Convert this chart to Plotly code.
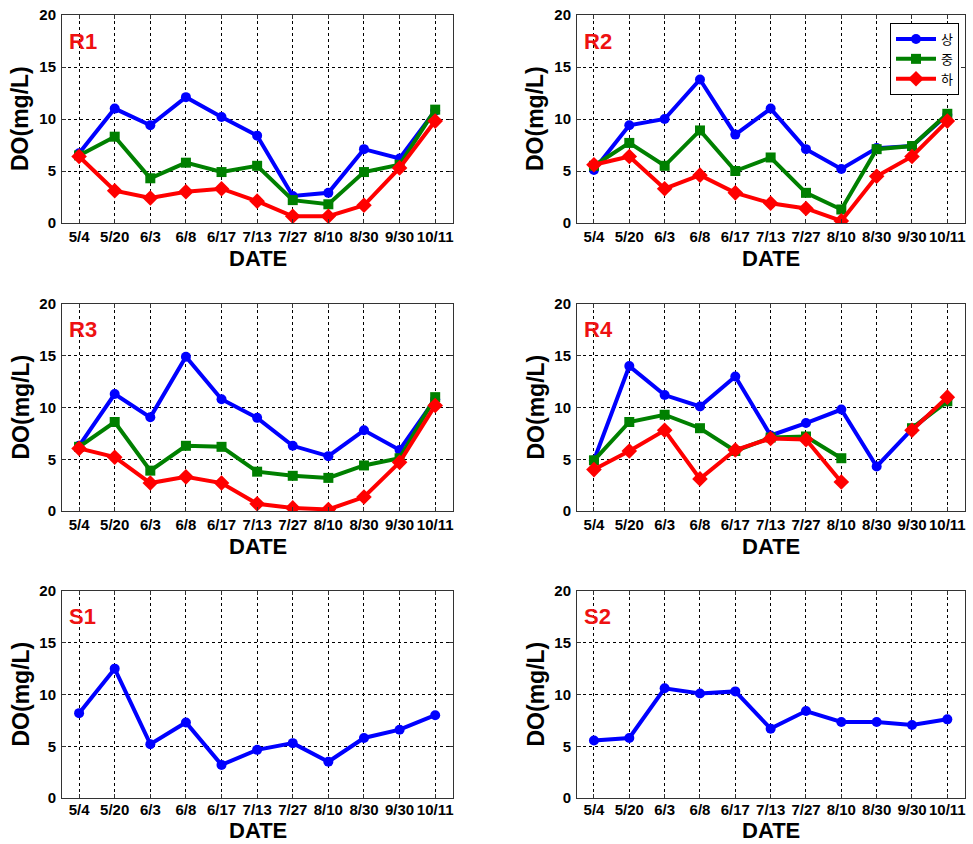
import plotly.graph_objects as go

dates = ["5/4", "5/20", "6/3", "6/8", "6/17", "7/13", "7/27", "8/10", "8/30", "9/30", "10/11"]
series_names = ["상", "중", "하"]

r1_up = [6.7, 11.0, 9.4, 12.1, 10.2, 8.4, 2.6, 2.9, 7.1, 6.2, 10.8]
r1_mid = [6.5, 8.3, 4.3, 5.8, 4.9, 5.5, 2.2, 1.8, 4.9, 5.6, 10.9]
r1_low = [6.4, 3.1, 2.4, 3.0, 3.3, 2.1, 0.65, 0.65, 1.7, 5.3, 9.8]

r2_up = [5.1, 9.4, 10.0, 13.8, 8.5, 11.0, 7.1, 5.2, 7.2, 7.4, 10.4]
r2_mid = [5.5, 7.7, 5.5, 8.9, 5.0, 6.3, 2.9, 1.3, 7.1, 7.4, 10.5]
r2_low = [5.6, 6.4, 3.3, 4.6, 2.9, 1.9, 1.4, 0.2, 4.5, 6.4, 9.8]

r3_up = [6.3, 11.3, 9.05, 14.9, 10.8, 9.0, 6.3, 5.3, 7.8, 5.9, 10.8]
r3_mid = [6.2, 8.6, 3.9, 6.3, 6.2, 3.8, 3.4, 3.2, 4.4, 5.1, 11.0]
r3_low = [6.05, 5.2, 2.7, 3.3, 2.7, 0.7, 0.3, 0.15, 1.35, 4.7, 10.2]

r4_up = [4.9, 14.0, 11.2, 10.1, 13.0, 7.3, 8.5, 9.8, 4.3, 7.9, 10.8]
r4_mid = [4.9, 8.6, 9.3, 8.0, 5.8, 7.1, 7.2, 5.1, None, 8.0, 10.6]
r4_low = [4.0, 5.8, 7.8, 3.1, 5.9, 7.0, 6.9, 2.8, None, 7.8, 11.0]

s1_up = [8.2, 12.5, 5.2, 7.3, 3.2, 4.65, 5.3, 3.5, 5.8, 6.6, 8.0]
s2_up = [5.55, 5.8, 10.6, 10.1, 10.3, 6.7, 8.4, 7.35, 7.35, 7.05, 7.6]

panel_labels = ["R1", "R2", "R3", "R4", "S1", "S2"]
panel_data = [
    [r1_up, r1_mid, r1_low],
    [r2_up, r2_mid, r2_low],
    [r3_up, r3_mid, r3_low],
    [r4_up, r4_mid, r4_low],
    [s1_up],
    [s2_up],
]
y_ticks = [0, 5, 10, 15, 20]

W, H = 973, 844
col_px = [(62, 453), (577, 965)]
row_px = [(15, 223), (304, 511), (591, 798)]

colors = ["#0000ff", "#008000", "#ff0000"]
symbols = ["circle", "square", "diamond"]
msizes = [10, 10, 12]

fig = go.Figure()
layout_axes = {}
annotations = []
tick_font = dict(family="Liberation Sans, Arial, sans-serif", size=15, color="black", weight="bold")
title_font = dict(family="Liberation Sans, Arial, sans-serif", size=22, color="black", weight="bold")

for i, (label, series) in enumerate(zip(panel_labels, panel_data)):
    r, c = divmod(i, 2)
    n = i + 1
    xa = "x" if n == 1 else f"x{n}"
    ya = "y" if n == 1 else f"y{n}"
    x0, x1 = col_px[c]
    yt, yb = row_px[r]
    xdom = [x0 / W, x1 / W]
    ydom = [1 - yb / H, 1 - yt / H]
    for k, vals in enumerate(series):
        fig.add_trace(go.Scatter(
            x=dates, y=vals, xaxis=xa, yaxis=ya,
            mode="lines+markers", name=series_names[k],
            legendgroup=series_names[k], showlegend=(i == 1),
            connectgaps=False,
            line=dict(color=colors[k], width=4),
            marker=dict(symbol=symbols[k], size=msizes[k], color=colors[k],
                        line=dict(width=0)),
        ))
    axis_common = dict(
        showline=True, mirror="ticks", linecolor="#333333", linewidth=1,
        showgrid=True, gridcolor="black", gridwidth=1, griddash="dot",
        ticks="inside", ticklen=4, tickcolor="#333333",
        tickfont=tick_font, zeroline=False, automargin=False,
    )
    layout_axes["xaxis" if n == 1 else f"xaxis{n}"] = dict(
        domain=xdom, anchor=ya, type="category",
        categoryorder="array", categoryarray=dates,
        range=[-0.48, 10.5], tickangle=0,
        ticklabelstandoff=(-2 if r == 2 else 0), **axis_common,
    )
    layout_axes["yaxis" if n == 1 else f"yaxis{n}"] = dict(
        domain=ydom, anchor=xa, range=[0, 20], tickvals=y_ticks,
        ticklabelstandoff=2, **axis_common,
    )
    annotations.append(dict(
        text=label, xref=f"{xa} domain", yref=f"{ya} domain",
        x=0.012, y=0.875, xanchor="left", yanchor="middle", showarrow=False,
        font=dict(family="Liberation Sans, Arial, sans-serif", size=22, color="#ee1111", weight="bold"),
    ))
    if r < 2:
        date_y, date_anchor = 1 - (yb + 35) / H, "middle"
    else:
        date_y, date_anchor = 0.0, "bottom"
    annotations.append(dict(
        text="DATE", xref="paper", yref="paper",
        x=(x0 + x1) / 2 / W, y=date_y, xanchor="center", yanchor=date_anchor,
        showarrow=False, borderpad=0, font=title_font,
    ))
    annotations.append(dict(
        text="DO(mg/L)", xref="paper", yref="paper", textangle=-90,
        x=(x0 - 42) / W, y=1 - (yt + yb) / 2 / H, xanchor="center", yanchor="middle",
        showarrow=False, font=dict(title_font, size=23),
    ))

fig.update_layout(
    width=W, height=H, margin=dict(l=0, r=0, t=0, b=0, autoexpand=False),
    paper_bgcolor="white", plot_bgcolor="white",
    annotations=annotations,
    legend=dict(
        x=890 / W, y=1 - 23 / H, xanchor="left", yanchor="top",
        bgcolor="white", bordercolor="black", borderwidth=1,
        font=dict(family="Noto Sans CJK KR, sans-serif", size=13, color="black"),
        itemwidth=40, tracegroupgap=0,
    ),
    **layout_axes,
)

fig.write_html("out.html", config={"displayModeBar": False},
               post_script="document.body.style.margin='0';document.body.style.overflow='hidden';")
